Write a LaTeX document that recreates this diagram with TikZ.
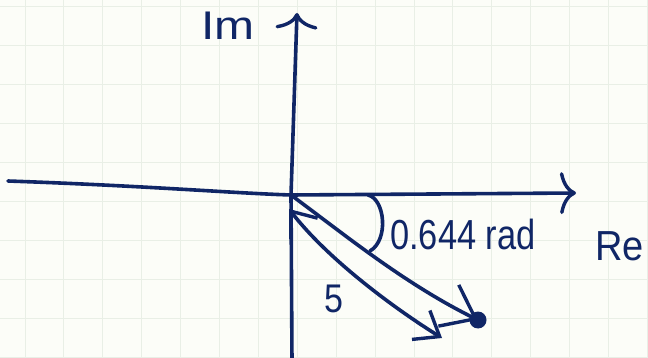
\documentclass[tikz,border=0pt]{standalone}
\usepackage{fontspec}
\setmainfont{Liberation Sans}
\usetikzlibrary{arrows.meta}
\definecolor{ink}{RGB}{16,38,102}
\definecolor{paper}{RGB}{252,253,248}
\definecolor{gridc}{RGB}{233,239,230}
\tikzset{
  inkline/.style={draw=ink, line width=3.6pt, line cap=round, line join=round},
  axistip/.style={-{Computer Modern Rightarrow[length=16pt,width=42pt,line width=3.4pt]}},
  endtip/.style={-{Straight Barb[length=30pt,width=46pt,line width=3.4pt]}},
  bothtip/.style={{Straight Barb[length=22pt,width=34pt,line width=3.4pt]}-{Straight Barb[length=22pt,width=34pt,line width=3.4pt]}},
  lbl/.style={text=ink, inner sep=0pt, anchor=base west, font=\fontsize{40}{48}\selectfont},
  gridline/.style={draw=gridc, line width=1pt}
}
\begin{document}
\begin{tikzpicture}[x=1pt,y=-1pt]
  \useasboundingbox (0,0) rectangle (648,358);
  \clip (0,0) rectangle (648,358);
  \fill[paper] (0,0) rectangle (648,358);
  % grid paper
  \foreach \i in {0,...,16} { \draw[gridline] ({25+38.9*\i},0) -- ({25+38.9*\i},358); }
  \foreach \j in {0,...,9} { \draw[gridline] (0,{7+38.9*\j}) -- (648,{7+38.9*\j}); }

  % coordinates
  \coordinate (O) at (291,195);
  \coordinate (hL) at (8,181);
  \coordinate (hR) at (576,193);
  \coordinate (vB) at (292,362);
  \coordinate (vT) at (297,13);
  \coordinate (P) at (478,320);
  \coordinate (S) at (442,338);
  \coordinate (E) at (289,209);
  \coordinate (A1) at (368,195);
  \coordinate (A2) at (370,251);

  % axes
  \draw[inkline, axistip] (hL) .. controls (150,186) and (230,193) .. (O) -- (hR);
  \draw[inkline, axistip] (vB) -- (O) -- (vT);

  % vector to the point
  \draw[inkline, endtip] (O) .. controls (345,235) and (405,284) .. (P);
  \fill[ink] (P) circle (8.5);

  % magnitude arrow (both ends)
  \draw[inkline, bothtip] (S) .. controls (400,312) and (330,262) .. (E);

  % angle arc
  \draw[inkline] (A1) .. controls (385,199) and (389,240) .. (A2);

  % labels
  \node[lbl] (im) at (201,40) {\scalebox{1.2}[1]{Im}};
  \node[lbl] (ang) at (390,250) {\scalebox{0.86}[1.05]{0.644 rad}};
  \node[lbl] (re) at (595,261) {\scalebox{0.95}[1.05]{Re}};
  \node[lbl] (mag) at (324,312) {\scalebox{0.85}[1]{5}};
\end{tikzpicture}
\end{document}
